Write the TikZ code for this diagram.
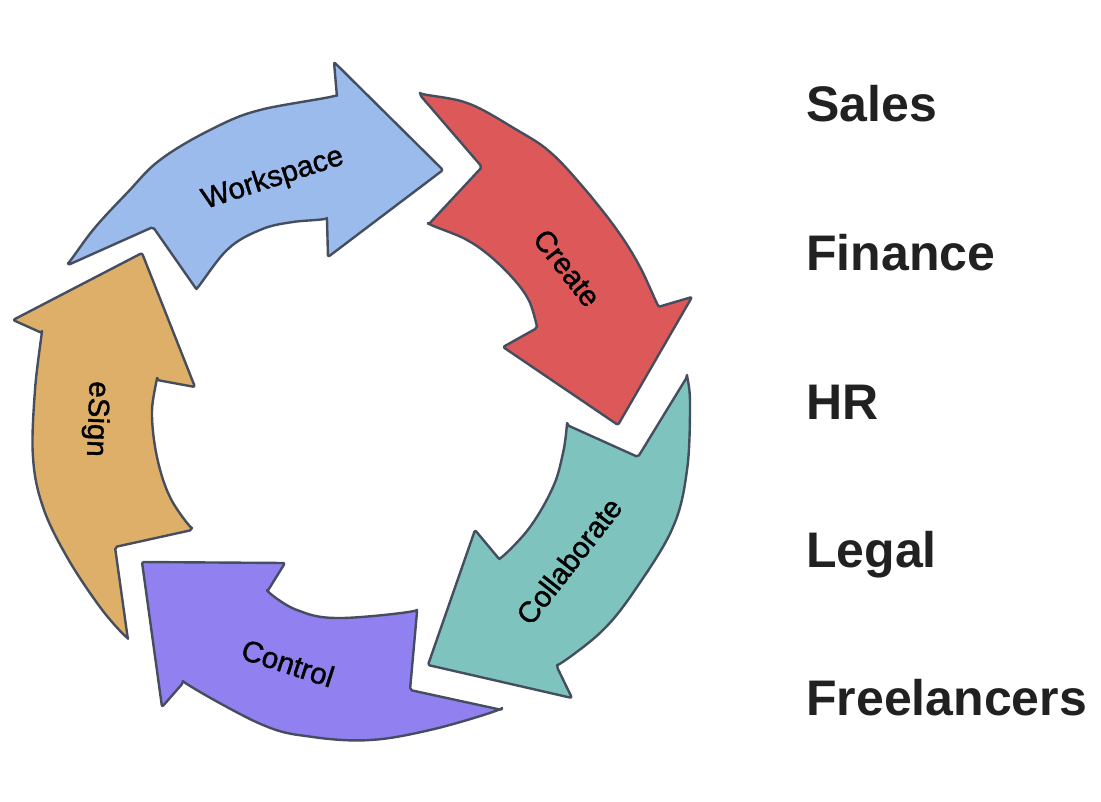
\documentclass[tikz,border=0pt]{standalone}
\usepackage{fontspec}
\setmainfont{Liberation Sans}
\newfontfamily\steplabelfont{Liberation Sans}[RawFeature={embolden=1.2}]
\usepackage{tikz}

\definecolor{wsblue}{RGB}{155,187,236}
\definecolor{crred}{RGB}{221,89,89}
\definecolor{coteal}{RGB}{126,195,190}
\definecolor{ctpurple}{RGB}{144,128,240}
\definecolor{esgold}{RGB}{222,175,104}
\definecolor{inkline}{RGB}{69,78,94}

\begin{document}
\begin{tikzpicture}[x=1pt,y=-1pt,
    band/.style={draw=inkline,line width=2.4pt,line join=round,rounded corners=2pt},
    steplabel/.style={font=\steplabelfont\fontsize{29.5}{31}\selectfont,inner sep=0pt},
    team/.style={font=\fontsize{50}{52}\selectfont\bfseries,text=black!87,inner sep=0pt,anchor=base west}]

\useasboundingbox (0,0) rectangle (1101,801);

% Workspace
\draw[band,fill=wsblue] (68,265)
  -- plot[smooth,tension=0.6] coordinates {(68,265) (93,230) (127,193) (160,160) (210,130) (260,110) (337,97)}
  -- (334,62) -- (443,170) -- (328,257) -- (327,220)
  -- plot[smooth,tension=0.6] coordinates {(327,220) (293,222) (260,230) (227,250) (197,290)}
  -- (153,227) -- cycle;

% Create
\draw[band,fill=crred] (420,95)
  -- plot[smooth,tension=0.6] coordinates {(420,95) (467,103) (517,130) (550,152) (583,187) (617,230) (640,267) (658,307)}
  -- (692,297) -- (618,425) -- (503,347) -- (537,328)
  -- plot[smooth,tension=0.6] coordinates {(537,328) (527,297) (500,265) (467,240) (428,225)}
  -- (482,167) -- cycle;

% Collaborate
\draw[band,fill=coteal] (687,377)
  -- plot[smooth,tension=0.6] coordinates {(687,377) (690,403) (687,470) (673,527) (637,587) (603,630) (557,667)}
  -- (572,698) -- (428,665) -- (475,530) -- (500,560)
  -- plot[smooth,tension=0.6] coordinates {(500,560) (530,527) (553,487) (563,453) (567,425)}
  -- (638,457) -- cycle;

% Control
\draw[band,fill=ctpurple] (502,710)
  -- plot[smooth,tension=0.6] coordinates {(502,710) (430,730) (370,740) (313,737) (263,725) (183,683)}
  -- (162,707) -- (142,562) -- (285,563) -- (267,592)
  -- plot[smooth,tension=0.6] coordinates {(267,592) (297,610) (337,618) (417,612)}
  -- (410,690) -- cycle;

% eSign
\draw[band,fill=esgold] (128,640)
  -- plot[smooth,tension=0.6] coordinates {(128,640) (100,607) (67,557) (43,507) (33,457) (35,390) (42,333)}
  -- (13,320) -- (142,253) -- (195,387) -- (157,380)
  -- plot[smooth,tension=0.6] coordinates {(157,380) (152,413) (157,457) (170,497) (192,530)}
  -- (115,547) -- cycle;

% Step labels
\node[steplabel,rotate=18] (workspace) at (273,179) {Workspace};
\node[steplabel,rotate=-52] (create) at (567,268) {Create};
\node[steplabel,rotate=52] (collaborate) at (569,561) {Collaborate};
\node[steplabel,rotate=-18] (control) at (288,663) {Control};
\node[steplabel,rotate=-92] (esign) at (96,419) {eSign};

% Teams
\node[team] (sales) at (806,121) {Sales};
\node[team] (finance) at (806,270) {Finance};
\node[team] (hr) at (806,419) {HR};
\node[team] (legal) at (806,567) {Legal};
\node[team] (freelancers) at (806,715) {Freelancers};
\end{tikzpicture}
\end{document}
